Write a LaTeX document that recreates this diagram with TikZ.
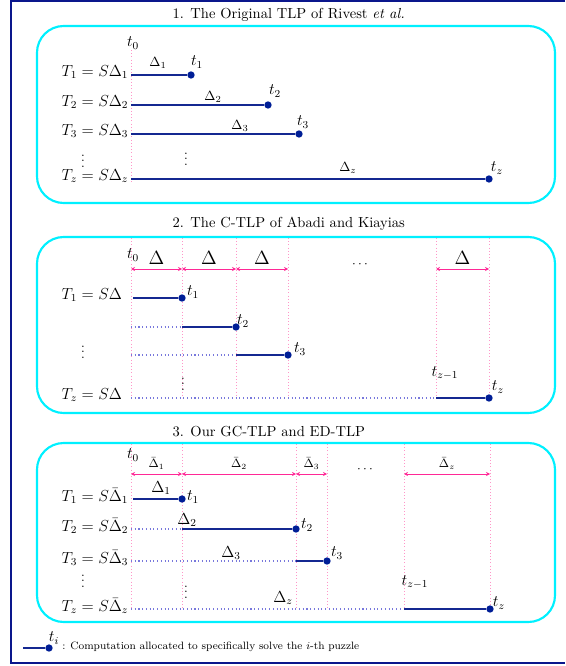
\documentclass[tikz,border=0pt]{standalone}
\usetikzlibrary{arrows.meta}
\definecolor{framecol}{RGB}{10,22,140}
\definecolor{boxcol}{RGB}{0,240,255}
\definecolor{segcol}{RGB}{20,40,145}
\definecolor{dotcol}{RGB}{0,30,150}
\definecolor{waitcol}{RGB}{120,120,220}
\definecolor{guidecol}{RGB}{255,150,200}
\definecolor{dimcol}{RGB}{255,40,150}
\begin{document}
\begin{tikzpicture}
    [x=0.75pt, y=-0.75pt,
    frame/.style={framecol, line width=2pt},
    box/.style={draw=boxcol, line width=1.6pt, rounded corners=20pt},
    title/.style={anchor=west, font=\fontsize{10.9}{13}\selectfont},
    row/.style={anchor=west, font=\large},
    tlab/.style={font=\large},
    dot/.style={circle, fill=dotcol, inner sep=0pt, minimum size=5.5pt},
    seg/.style={segcol, line width=1.1pt},
    wait/.style={waitcol, dotted, thick},
    guide/.style={guidecol, dotted},
    dim/.style={dimcol, semithick, {Stealth[length=3pt,width=3pt]}-{Stealth[length=3pt,width=3pt]}}]

    \useasboundingbox (0,0) rectangle (565,666);
    \draw[frame] (565,1) -- (11,1) -- (11,663) -- (565,663);

    % 1. Rivest et al.
    \node[title] (h1) at (168,15) {1. The Original TLP of Rivest \emph{et al.}};
    \draw[box] (37,26) rectangle (555,203);
    \node[tlab] (p0) at (133,43) {$t_0$};
    \draw[guide] (131,50) -- (131,182);

    \node[row] (r1) at (57,72) {$T_1 = S\Delta_1$};
    \node[row] (r2) at (57,102) {$T_2 = S\Delta_2$};
    \node[row] (r3) at (57,131) {$T_3 = S\Delta_3$};
    \node[row] (rz) at (57,176) {$T_z = S\Delta_z$};
    \node (v1) at (83,157) {$\vdots$};
    \node (v2) at (186,155) {$\vdots$};

    \coordinate (s1) at (131,75);
    \coordinate (s2) at (131,105);
    \coordinate (s3) at (131,134);
    \coordinate (sz) at (131,179);
    \node[dot] (e1) at (191,75) {};
    \node[dot] (e2) at (268,105) {};
    \node[dot] (e3) at (299,134) {};
    \node[dot] (ez) at (489,179) {};
    \draw[seg] (s1) -- (e1);
    \draw[seg] (s2) -- (e2);
    \draw[seg] (s3) -- (e3);
    \draw[seg] (sz) -- (ez);

    \node (d1) at (158,63) {$\Delta_1$};
    \node (d2) at (213,97) {$\Delta_2$};
    \node (d3) at (240,126) {$\Delta_3$};
    \node (dz) at (348,168) {$\Delta_z$};
    \node[tlab] (p1) at (197,62) {$t_1$};
    \node[tlab] (p2) at (275,91) {$t_2$};
    \node[tlab] (p3) at (303,122) {$t_3$};
    \node[tlab] (pz) at (497,168) {$t_z$};

    % 2. Abadi and Kiayias
    \node[title] (h2) at (168,224) {2. The C-TLP of Abadi and Kiayias};
    \draw[box] (37,237) rectangle (555,413);
    \node[tlab] (q0) at (133,255) {$t_0$};
    \foreach \x in {131,182,236,288,436,489}
        \draw[guide] (\x,238) -- (\x,398);

    \coordinate (b0) at (131,269);
    \coordinate (b1) at (182,269);
    \coordinate (b2) at (236,269);
    \coordinate (b3) at (288,269);
    \coordinate (b4) at (436,269);
    \coordinate (b5) at (489,269);
    \draw[dim] (b0) -- (b1) node[midway, above, black, font=\Large] {$\Delta$};
    \draw[dim] (b1) -- (b2) node[midway, above, black, font=\Large] {$\Delta$};
    \draw[dim] (b2) -- (b3) node[midway, above, black, font=\Large] {$\Delta$};
    \draw[dim] (b4) -- (b5) node[midway, above, black, font=\Large] {$\Delta$};
    \node (bd) at (360,265) {$\cdots$};

    \node[row] (c1) at (57,295) {$T_1 = S\Delta$};
    \node[row] (cz) at (57,395) {$T_z = S\Delta$};
    \node (w1) at (83,348) {$\vdots$};
    \node (w2) at (183,380) {$\vdots$};

    \coordinate (g1) at (133,298);
    \coordinate (g2) at (131,327);
    \coordinate (k2) at (182,327);
    \coordinate (g3) at (131,355);
    \coordinate (k3) at (236,355);
    \coordinate (gz) at (131,398);
    \coordinate (kz) at (436,398);
    \node[dot] (f1) at (182,298) {};
    \node[dot] (f2) at (236,327) {};
    \node[dot] (f3) at (288,355) {};
    \node[dot] (fz) at (489,398) {};
    \draw[seg] (g1) -- (f1);
    \draw[wait] (g2) -- (k2);
    \draw[seg] (k2) -- (f2);
    \draw[wait] (g3) -- (k3);
    \draw[seg] (k3) -- (f3);
    \draw[wait] (gz) -- (kz);
    \draw[seg] (kz) -- (fz);

    \node[tlab] (q1) at (193,292) {$t_1$};
    \node[tlab] (q2) at (243,321) {$t_2$};
    \node[tlab] (q3) at (300,349) {$t_3$};
    \node[tlab] (qy) at (445,373) {$t_{z-1}$};
    \node[tlab] (qz) at (498,387) {$t_z$};

    % 3. GC-TLP and ED-TLP
    \node[title] (h3) at (168,432) {3. Our GC-TLP and ED-TLP};
    \draw[box] (37,443) rectangle (555,622);
    \node[tlab] (u0) at (133,455) {$t_0$};
    \foreach \x in {131,182,296,327,404,490}
        \draw[guide] (\x,444) -- (\x,609);

    \coordinate (m0) at (131,474);
    \coordinate (m1) at (182,474);
    \coordinate (m2) at (296,474);
    \coordinate (m3) at (327,474);
    \coordinate (m4) at (404,474);
    \coordinate (m5) at (490,474);
    \draw[dim] (m0) -- (m1) node[midway, above, black, font=\small] {$\bar{\Delta}_1$};
    \draw[dim] (m1) -- (m2) node[midway, above, black, font=\small] {$\bar{\Delta}_2$};
    \draw[dim] (m2) -- (m3) node[midway, above, black, font=\small] {$\bar{\Delta}_3$};
    \draw[dim] (m4) -- (m5) node[midway, above, black, font=\small] {$\bar{\Delta}_z$};
    \node (md) at (365,470) {$\cdots$};

    \node[row] (o1) at (57,496) {$T_1 = S\bar{\Delta}_1$};
    \node[row] (o2) at (57,526) {$T_2 = S\bar{\Delta}_2$};
    \node[row] (o3) at (57,558) {$T_3 = S\bar{\Delta}_3$};
    \node[row] (oz) at (57,606) {$T_z = S\bar{\Delta}_z$};
    \node (x1) at (83,577) {$\vdots$};
    \node (x2) at (186,588) {$\vdots$};

    \coordinate (n1) at (133,499);
    \coordinate (n2) at (131,529);
    \coordinate (l2) at (182,529);
    \coordinate (n3) at (131,561);
    \coordinate (l3) at (296,561);
    \coordinate (nz) at (131,609);
    \coordinate (lz) at (404,609);
    \node[dot] (y1) at (182,499) {};
    \node[dot] (y2) at (296,529) {};
    \node[dot] (y3) at (327,561) {};
    \node[dot] (yz) at (490,609) {};
    \draw[seg] (n1) -- (y1);
    \draw[wait] (n2) -- (l2);
    \draw[seg] (l2) -- (y2);
    \draw[wait] (n3) -- (l3);
    \draw[seg] (l3) -- (y3);
    \draw[wait] (nz) -- (lz);
    \draw[seg] (lz) -- (yz);

    \node[tlab] (a1) at (161,488) {$\Delta_1$};
    \node[tlab] (a2) at (187,520) {$\Delta_2$};
    \node[tlab] (a3) at (231,553) {$\Delta_3$};
    \node[tlab] (az) at (283,598) {$\Delta_z$};
    \node[tlab] (u1) at (193,497) {$t_1$};
    \node[tlab] (u2) at (307,525) {$t_2$};
    \node[tlab] (u3) at (337,553) {$t_3$};
    \node[tlab] (uy) at (415,582) {$t_{z-1}$};
    \node[tlab] (uz) at (499,603) {$t_z$};

    % legend
    \coordinate (ls) at (23,648);
    \node[dot] (le) at (49,648) {};
    \draw[seg] (ls) -- (le);
    \node[tlab] (lt) at (54,638) {$t_i$};
    \node[anchor=west, font=\footnotesize, inner sep=0pt] (lx) at (62,647) {: Computation allocated to specifically solve the $i$-th puzzle};
\end{tikzpicture}
\end{document}
